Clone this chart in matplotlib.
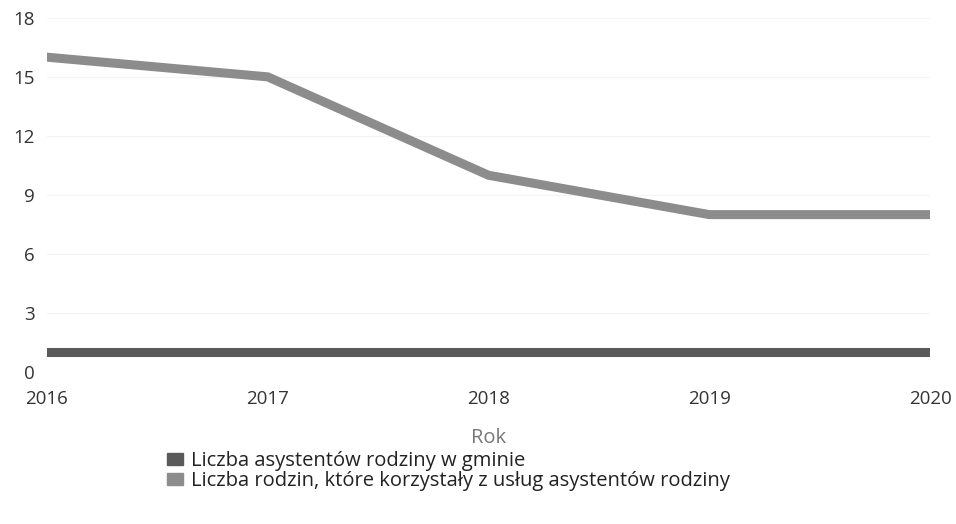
import matplotlib.pyplot as plt
from matplotlib.patches import Patch

lata = [2016, 2017, 2018, 2019, 2020]
asystenci = [1, 1, 1, 1, 1]
rodziny = [16, 15, 10, 8, 8]
y_ticks = [0, 3, 6, 9, 12, 15, 18]

nazwa_asystenci = "Liczba asystentów rodziny w gminie"
nazwa_rodziny = "Liczba rodzin, które korzystały z usług asystentów rodziny"

kolor_asystenci = "#5a5a5a"
kolor_rodziny = "#8c8c8c"

plt.rcParams["font.family"] = ["Open Sans", "DejaVu Sans"]

fig = plt.figure(figsize=(9.56, 5.24), dpi=100)
ax = fig.add_axes([0.049, 0.29, 0.924, 0.676])

ax.plot(lata, asystenci, color=kolor_asystenci, linewidth=6.5, solid_joinstyle="miter")
ax.plot(lata, rodziny, color=kolor_rodziny, linewidth=6.5, solid_joinstyle="miter")

ax.set_xlim(2016, 2020)
ax.set_ylim(0, 18)
ax.set_xticks(lata)
ax.set_yticks(y_ticks)
ax.tick_params(length=0, labelsize=13.5, colors="#333333")
ax.set_xticklabels([str(r) for r in lata])
ax.tick_params(axis="y", pad=9)
ax.tick_params(axis="x", pad=13)
ax.grid(axis="y", color="#f4f4f4", linewidth=0.8)
for s in ax.spines.values():
    s.set_visible(False)

ax.set_xlabel("Rok", fontsize=14.5, color="#777777", labelpad=14)

handles = [Patch(color=kolor_asystenci), Patch(color=kolor_rodziny)]
fig.legend(handles, [nazwa_asystenci, nazwa_rodziny], loc="upper left",
           bbox_to_anchor=(0.164, 0.158), frameon=False, fontsize=14.5,
           handlelength=0.8, handleheight=0.55, handletextpad=0.4,
           labelspacing=0.0, borderpad=0, labelcolor="#222222")

fig.savefig("out.png", dpi=100, facecolor="white")
